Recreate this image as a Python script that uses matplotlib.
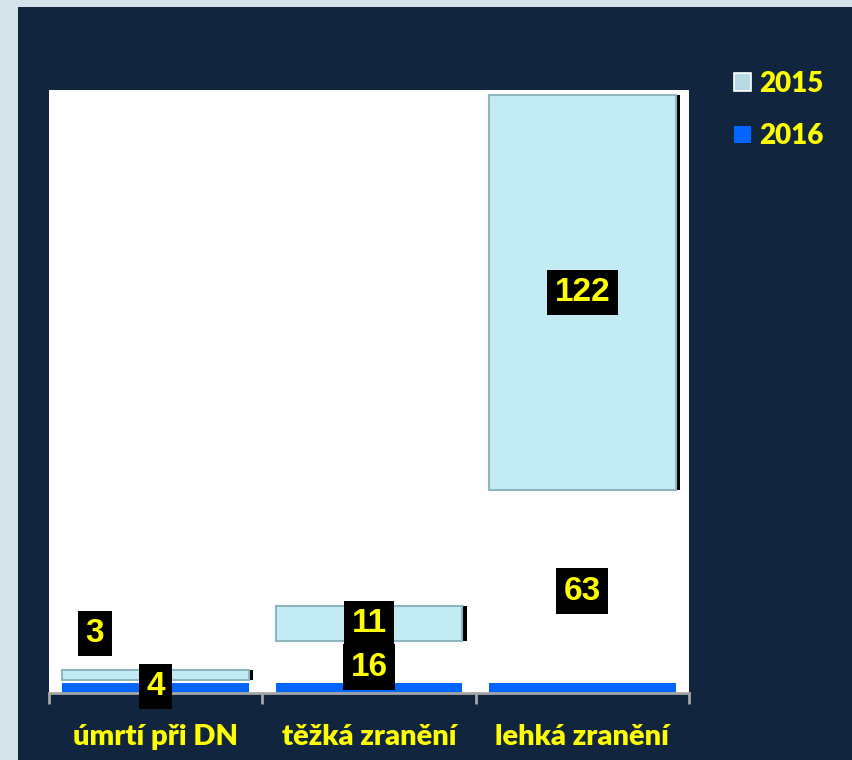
import numpy as np
import matplotlib
matplotlib.use("Agg")
import matplotlib.pyplot as plt
from matplotlib.patches import Patch, Rectangle

categories = ["úmrtí při DN", "těžká zranění", "lehká zranění"]
years = ["2015", "2016"]
v2016 = [4, 16, 63]
v2015 = [3, 11, 122]

NAVY = "#12253F"
YELLOW = "#FFFF00"
LIGHT = "#C2EBF4"
BLUE = "#0066FF"

fig = plt.figure(figsize=(8.52, 7.6), dpi=100, facecolor="#D5E2EA")
fig.patches.append(Rectangle((18 / 852, 0), 1, 753 / 760, transform=fig.transFigure,
                             facecolor=NAVY, edgecolor="none", zorder=-1))

ax = fig.add_axes([49 / 852, 67 / 760, 640 / 852, 603 / 760])
ax.set_facecolor("white")
x = np.arange(len(categories))
w = 0.875

# 2016: stacked base, shown only as a thin blue strip at the bottom
ax.bar(x, v2016, w, color="none", edgecolor="none")
ax.bar(x, [3] * len(x), w, color=BLUE, edgecolor="none", zorder=3)
# 2015 on top, with a dark shadow to the right
ax.bar(x + 0.02, v2015, w, bottom=v2016, color="black", edgecolor="none", zorder=2)
ax.bar(x, v2015, w, bottom=v2016, color=LIGHT, edgecolor="#8DB6BF", linewidth=1.5, zorder=3)

ax.set_xlim(-0.5, 2.5)
ax.set_ylim(0, 186.7)
ax.set_yticks([])
for s in ["top", "right", "left"]:
    ax.spines[s].set_visible(False)
ax.spines["bottom"].set_color("#A6A6A6")
ax.spines["bottom"].set_linewidth(2)
ax.spines["bottom"].set_zorder(5)
ax.set_xticks([-0.5, 0.5, 1.5, 2.5])
ax.set_xticklabels([])
ax.tick_params(axis="x", which="major", length=8, width=2, color="#A6A6A6", direction="out")
ax.set_xticks(x, minor=True)
ax.set_xticklabels(categories, minor=True, color=YELLOW, fontsize=21,
                   fontweight="heavy", family="Lato")
ax.tick_params(axis="x", which="minor", length=0, pad=22)

box = dict(boxstyle="square,pad=0.22", facecolor="black", edgecolor="none")
lab_kw = dict(ha="center", va="center", color=YELLOW, fontsize=24, fontweight="bold",
              family="Liberation Sans", bbox=box, zorder=6, clip_on=False)
for i in range(len(x)):
    ax.text(x[i], v2016[i] / 2, str(v2016[i]), **lab_kw)
    if i == 0:
        ax.text(x[i] - 0.285, 18.4, str(v2015[i]), **lab_kw)
    else:
        ax.text(x[i], v2016[i] + v2015[i] / 2, str(v2015[i]), **lab_kw)

handles = [Patch(facecolor="#B5DAE3", edgecolor="white", linewidth=1.2),
           Patch(facecolor=BLUE, edgecolor="none")]
leg = fig.legend(handles, years, loc="upper left", bbox_to_anchor=(709 / 852, 1 - 46 / 760),
                 frameon=False, handlelength=0.6, handleheight=0.6, handletextpad=0.3,
                 labelspacing=0.95, prop={"family": "Lato", "weight": "heavy", "size": 20})
for t in leg.get_texts():
    t.set_color(YELLOW)

fig.savefig("out.png", dpi=100, facecolor=fig.get_facecolor())
